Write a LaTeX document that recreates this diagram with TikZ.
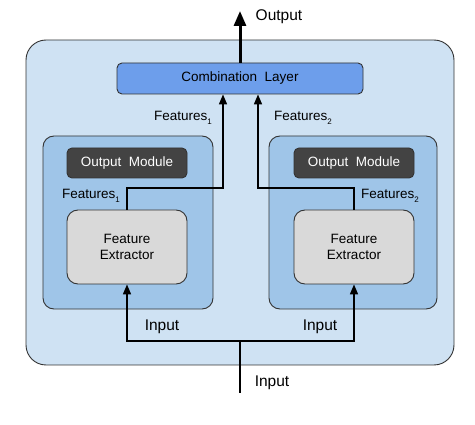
\documentclass[tikz,border=0pt]{standalone}
\usepackage{fontspec}
\setmainfont{Liberation Sans}
\usetikzlibrary{arrows.meta}
\definecolor{outerblue}{HTML}{CFE2F3}
\definecolor{modblue}{HTML}{9FC5E8}
\definecolor{combblue}{HTML}{6D9EEB}
\definecolor{darkmod}{HTML}{434343}
\definecolor{lightgray}{HTML}{D9D9D9}
\definecolor{edge}{HTML}{333333}
\newcommand{\sub}[1]{\raisebox{-0.55ex}{\fontsize{8}{8}\selectfont #1}}

\begin{document}
\begin{tikzpicture}[x=1pt, y=-1pt,
    box/.style={draw=edge, line width=0.9pt, inner sep=0pt, align=center,
      font=\fontsize{13.5}{16}\selectfont},
    outerbox/.style={box, fill=outerblue, rounded corners=20pt},
    modbox/.style={box, fill=modblue, rounded corners=11pt},
    combbox/.style={box, fill=combblue, rounded corners=5pt},
    outmod/.style={box, fill=darkmod, text=white, rounded corners=5pt},
    extract/.style={box, fill=lightgray, rounded corners=11pt},
    lbl/.style={font=\fontsize{13.5}{16}\selectfont, inner sep=0pt},
    biglbl/.style={font=\fontsize{15.5}{18}\selectfont, inner sep=0pt},
    conn/.style={line width=1.6pt, -{Triangle[length=10pt, width=8pt]}}]
    \useasboundingbox (0,0) rectangle (475,425);
    \node[outerbox, minimum width=428, minimum height=325] (outer) at (240,202.5) {};
    \node[combbox, minimum width=246, minimum height=31] (comb) at (240,78.5) {Combination\ \ Layer};
    \node[modbox, minimum width=170, minimum height=173] (mod1) at (128,222.5) {};
    \node[modbox, minimum width=168, minimum height=173] (mod2) at (353,222.5) {};
    \node[outmod, minimum width=120, minimum height=30] (om1) at (127,163) {Output\ \ Module};
    \node[outmod, minimum width=120, minimum height=30] (om2) at (354,163) {Output\ \ Module};
    \node[extract, minimum width=120, minimum height=74] (fe1) at (127,247) {Feature\\Extractor};
    \node[extract, minimum width=120, minimum height=74] (fe2) at (354,247) {Feature\\Extractor};
    \node[biglbl] (outlbl) at (279,17) {Output};
    \node[lbl] (feat1) at (183,118) {Features\sub{1}};
    \node[lbl] (feat2) at (303,118) {Features\sub{2}};
    \node[lbl] (feat1in) at (91,196) {Features\sub{1}};
    \node[lbl] (feat2in) at (390,196) {Features\sub{2}};
    \node[biglbl] (in1) at (162,327) {Input};
    \node[biglbl] (in2) at (320,327) {Input};
    \node[biglbl] (in0) at (272,383) {Input};
    \coordinate (top) at (240,11);
    \coordinate (f1) at (223,188);
    \coordinate (f2) at (258,188);
    \coordinate (split) at (240,341);
    \coordinate (bottom) at (240,393);
    \draw[line width=3pt, -{Triangle[length=15pt, width=12pt]}] (comb.north) -- (top);
    \draw[conn] (fe1.north) |- (f1) -- (f1 |- comb.south);
    \draw[conn] (fe2.north) |- (f2) -- (f2 |- comb.south);
    \draw[line width=1.6pt] (bottom) -- (split);
    \draw[conn] (split) -| (fe1.south);
    \draw[conn] (split) -| (fe2.south);
\end{tikzpicture}
\end{document}
